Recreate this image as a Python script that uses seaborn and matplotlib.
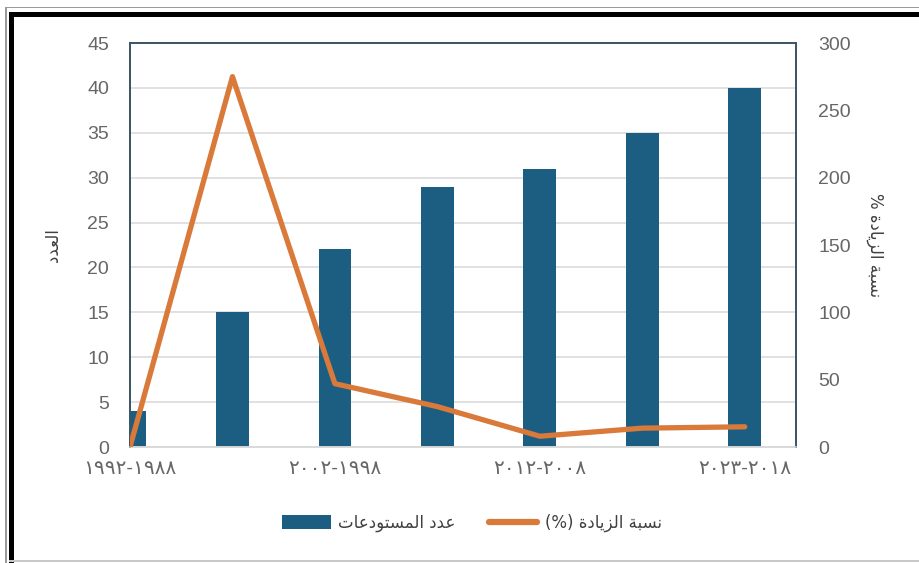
import numpy as np
import pandas as pd
import matplotlib
matplotlib.use("Agg")
import matplotlib.pyplot as plt
from matplotlib.patches import Rectangle, Patch
from matplotlib.lines import Line2D
import seaborn as sns

# ---------------- data ----------------
periods = ["١٩٩٢-١٩٨٨", "١٩٩٧-١٩٩٣", "٢٠٠٢-١٩٩٨", "٢٠٠٧-٢٠٠٣",
           "٢٠١٢-٢٠٠٨", "٢٠١٧-٢٠١٣", "٢٠٢٣-٢٠١٨"]
shown_ticks = [0, 2, 4, 6]
warehouses = [4, 15, 22, 29, 31, 35, 40]
increase_pct = [0, 275, 47, 30, 8, 14, 15]
left_ticks = [0, 5, 10, 15, 20, 25, 30, 35, 40, 45]
right_ticks = [0, 50, 100, 150, 200, 250, 300]
label_count = "العدد"
label_pct = "نسبة الزيادة %"
legend_bar = "عدد المستودعات"
legend_line = "نسبة الزيادة (%)"

# ------------- minimal Arabic shaping (presentation forms, visual order) -------------
FORMS = {
    'ا': ('\uFE8D', '\uFE8E', None, None),
    'ب': ('\uFE8F', '\uFE90', '\uFE91', '\uFE92'),
    'ة': ('\uFE93', '\uFE94', None, None),
    'ت': ('\uFE95', '\uFE96', '\uFE97', '\uFE98'),
    'د': ('\uFEA9', '\uFEAA', None, None),
    'ز': ('\uFEAF', '\uFEB0', None, None),
    'س': ('\uFEB1', '\uFEB2', '\uFEB3', '\uFEB4'),
    'ع': ('\uFEC9', '\uFECA', '\uFECB', '\uFECC'),
    'ل': ('\uFEDD', '\uFEDE', '\uFEDF', '\uFEE0'),
    'م': ('\uFEE1', '\uFEE2', '\uFEE3', '\uFEE4'),
    'ن': ('\uFEE5', '\uFEE6', '\uFEE7', '\uFEE8'),
    'و': ('\uFEED', '\uFEEE', None, None),
    'ي': ('\uFEF1', '\uFEF2', '\uFEF3', '\uFEF4'),
}


def shape(text):
    out = []
    n = len(text)
    for i, ch in enumerate(text):
        if ch not in FORMS:
            out.append(ch)
            continue
        prev = text[i - 1] if i > 0 else ''
        nxt = text[i + 1] if i < n - 1 else ''
        jp = prev in FORMS and FORMS[prev][2] is not None
        jn = FORMS[ch][2] is not None and nxt in FORMS
        iso, fin, ini, med = FORMS[ch]
        if jp and jn:
            out.append(med)
        elif jp:
            out.append(fin)
        elif jn:
            out.append(ini)
        else:
            out.append(iso)
    vis = ''.join(out)[::-1]
    return vis.translate(str.maketrans('()', ')('))


# ---------------- styling ----------------
sns.set_theme(style="white")
plt.rcParams['font.family'] = ['Liberation Sans', 'DejaVu Sans']

bar_color = "#1b5e82"
line_color = "#d9793a"
tick_color = "#666666"
spine_color = "#3e5766"

fig = plt.figure(figsize=(9.19, 5.63), dpi=100)
W, H = 919, 563
ax = fig.add_axes([130 / W, 1 - 447 / H, (796 - 130) / W, (447 - 43) / H])

df = pd.DataFrame({"period": periods, "count": warehouses})
sns.barplot(data=df, x="period", y="count", order=periods, color=bar_color,
            width=0.32, saturation=1, linewidth=0, ax=ax, zorder=2)
ax.set_xlim(0, 6.5)
ax.set_ylim(0, 45)
ax.set_yticks(left_ticks)
ax.set_xticks(shown_ticks)
ax.set_xticklabels([periods[i] for i in shown_ticks])
ax.yaxis.grid(True, color="#d9d9d9", lw=1.1, zorder=0)
ax.set_axisbelow(True)
ax.set_xlabel("")
ax.set_ylabel(shape(label_count), fontsize=12, color="#404040", labelpad=18,
              family=['DejaVu Sans'])
ax.tick_params(axis='both', length=0, labelsize=14, labelcolor=tick_color)
ax.tick_params(axis='x', pad=9, labelsize=14.5)
ax.tick_params(axis='y', pad=15)

ax2 = ax.twinx()
ax2.set_position(ax.get_position())
sns.lineplot(x=np.arange(len(periods)), y=increase_pct, color=line_color,
             lw=3.8, ax=ax2, zorder=3)
ax2.set_ylim(0, 300)
ax2.set_yticks(right_ticks)
ax2.set_xlim(0, 6.5)
ax2.tick_params(axis='y', length=0, labelsize=14, labelcolor=tick_color, pad=16)
ax2.set_ylabel(shape(label_pct), fontsize=12, color="#404040", rotation=270,
               labelpad=24, family=['DejaVu Sans'])
ax2.grid(False)

for a in (ax, ax2):
    for side in ("left", "right", "top"):
        a.spines[side].set_color(spine_color)
        a.spines[side].set_linewidth(1.4)
    a.spines["bottom"].set_color("#d9d9d9")
    a.spines["bottom"].set_linewidth(1.1)

handles = [Patch(facecolor=bar_color, edgecolor="none"),
           Line2D([0], [0], color=line_color, lw=4.5)]
fig.legend(handles, [shape(legend_bar), shape(legend_line)], loc="center",
           bbox_to_anchor=(472 / W, 1 - 523 / H), ncol=2, frameon=False,
           prop={'family': ['DejaVu Sans'], 'size': 12}, handlelength=2.9,
           handleheight=0.9, columnspacing=2.0, handletextpad=0.45,
           labelcolor="#404040")

# ---------------- outer frame ----------------
def px_rect(x0, y0, x1, y1, color):
    fig.patches.append(Rectangle((x0 / W, 1 - y1 / H), (x1 - x0) / W, (y1 - y0) / H,
                                 transform=fig.transFigure, facecolor=color,
                                 edgecolor="none", zorder=10))

px_rect(5, 6.5, W, 8, "#9a9a9a")     # thin top gray line
px_rect(5, 6.5, 6.5, H, "#9a9a9a")   # thin left gray line
px_rect(9, 12, W, 17, "#000000")     # thick top black band
px_rect(9, 12, 13.5, H, "#000000")   # thick left black band
px_rect(9, 560, W, 562, "#c8c8c8")   # bottom light line

fig.savefig("out.png", dpi=100)
